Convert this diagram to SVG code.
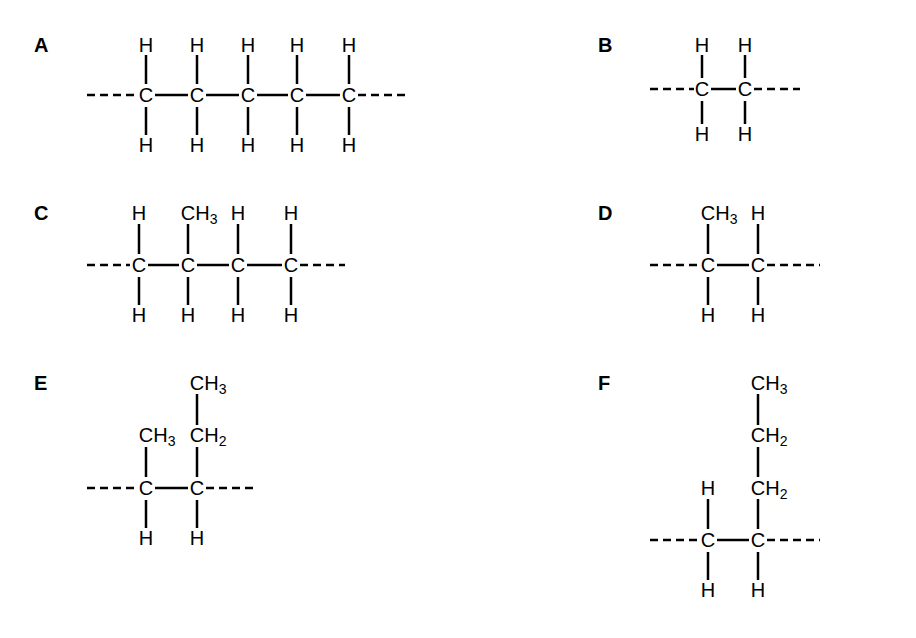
<svg xmlns="http://www.w3.org/2000/svg" width="916" height="638" viewBox="0 0 916 638">
<style>
text{font-family:"Liberation Sans",Arial,sans-serif;font-size:20px;fill:#000}
.a{text-anchor:middle}
.lb{font-weight:bold;font-size:20px}
line{stroke:#000;stroke-width:2.5}
.d{stroke-dasharray:8,5}
tspan.s{font-size:14px}
</style>
<rect width="916" height="638" fill="#fff"/>
<g id="labels">
<text class="lb" x="34" y="52">A</text><text class="lb" x="598" y="52">B</text>
<text class="lb" x="34" y="220">C</text><text class="lb" x="598" y="220">D</text>
<text class="lb" x="34" y="390">E</text><text class="lb" x="598" y="390">F</text>
</g>
<g id="connectors">
<line class="d" x1="87" y1="95" x2="137" y2="95"/><line class="d" x1="358" y1="95" x2="410" y2="95"/>
<line x1="155" y1="95" x2="188" y2="95"/><line x1="206" y1="95" x2="239" y2="95"/><line x1="257" y1="95" x2="288" y2="95"/><line x1="306" y1="95" x2="340" y2="95"/>
<line x1="146" y1="55" x2="146" y2="84"/><line x1="197" y1="55" x2="197" y2="84"/><line x1="248" y1="55" x2="248" y2="84"/><line x1="297" y1="55" x2="297" y2="84"/><line x1="349" y1="55" x2="349" y2="84"/>
<line x1="146" y1="107" x2="146" y2="135"/><line x1="197" y1="107" x2="197" y2="135"/><line x1="248" y1="107" x2="248" y2="135"/><line x1="297" y1="107" x2="297" y2="135"/><line x1="349" y1="107" x2="349" y2="135"/>
<line class="d" x1="650" y1="89" x2="694" y2="89"/><line class="d" x1="754" y1="89" x2="800" y2="89"/>
<line x1="711" y1="89" x2="736" y2="89"/>
<line x1="702" y1="55" x2="702" y2="78"/><line x1="745" y1="55" x2="745" y2="78"/>
<line x1="702" y1="101" x2="702" y2="124"/><line x1="745" y1="101" x2="745" y2="124"/>
<line class="d" x1="87" y1="265" x2="130" y2="265"/><line class="d" x1="300" y1="265" x2="345" y2="265"/>
<line x1="148" y1="265" x2="179" y2="265"/><line x1="197" y1="265" x2="229" y2="265"/><line x1="247" y1="265" x2="282" y2="265"/>
<line x1="139" y1="224" x2="139" y2="254"/><line x1="188" y1="224" x2="188" y2="254"/><line x1="238" y1="224" x2="238" y2="254"/><line x1="291" y1="224" x2="291" y2="254"/>
<line x1="139" y1="277" x2="139" y2="305"/><line x1="188" y1="277" x2="188" y2="305"/><line x1="238" y1="277" x2="238" y2="305"/><line x1="291" y1="277" x2="291" y2="305"/>
<line class="d" x1="650" y1="265" x2="699" y2="265"/><line class="d" x1="767" y1="265" x2="820" y2="265"/>
<line x1="717" y1="265" x2="749" y2="265"/>
<line x1="708" y1="224" x2="708" y2="254"/><line x1="758" y1="224" x2="758" y2="254"/>
<line x1="708" y1="277" x2="708" y2="305"/><line x1="758" y1="277" x2="758" y2="305"/>
<line class="d" x1="87" y1="488" x2="137" y2="488"/><line class="d" x1="206" y1="488" x2="258" y2="488"/>
<line x1="155" y1="488" x2="188" y2="488"/>
<line x1="146" y1="447" x2="146" y2="477"/><line x1="197" y1="447" x2="197" y2="477"/><line x1="197" y1="394" x2="197" y2="425"/>
<line x1="146" y1="500" x2="146" y2="528"/><line x1="197" y1="500" x2="197" y2="528"/>
<line class="d" x1="650" y1="540" x2="699" y2="540"/><line class="d" x1="767" y1="540" x2="820" y2="540"/>
<line x1="717" y1="540" x2="749" y2="540"/>
<line x1="708" y1="499" x2="708" y2="529"/><line x1="758" y1="499" x2="758" y2="529"/>
<line x1="758" y1="447" x2="758" y2="477"/><line x1="758" y1="394" x2="758" y2="425"/>
<line x1="708" y1="552" x2="708" y2="580"/><line x1="758" y1="552" x2="758" y2="580"/>
</g>
<g id="molA">
<text class="a" x="146" y="52">H</text><text class="a" x="197" y="52">H</text><text class="a" x="248" y="52">H</text><text class="a" x="297" y="52">H</text><text class="a" x="349" y="52">H</text>
<text class="a" x="146" y="102">C</text><text class="a" x="197" y="102">C</text><text class="a" x="248" y="102">C</text><text class="a" x="297" y="102">C</text><text class="a" x="349" y="102">C</text>
<text class="a" x="146" y="152">H</text><text class="a" x="197" y="152">H</text><text class="a" x="248" y="152">H</text><text class="a" x="297" y="152">H</text><text class="a" x="349" y="152">H</text>
</g>
<g id="molB">
<text class="a" x="702" y="52">H</text><text class="a" x="745" y="52">H</text>
<text class="a" x="702" y="96">C</text><text class="a" x="745" y="96">C</text>
<text class="a" x="702" y="141">H</text><text class="a" x="745" y="141">H</text>
</g>
<g id="molC">
<text class="a" x="139" y="220">H</text><text x="180.8" y="220">CH<tspan class="s" dy="4">3</tspan></text><text class="a" x="238" y="220">H</text><text class="a" x="291" y="220">H</text>
<text class="a" x="139" y="272">C</text><text class="a" x="188" y="272">C</text><text class="a" x="238" y="272">C</text><text class="a" x="291" y="272">C</text>
<text class="a" x="139" y="322">H</text><text class="a" x="188" y="322">H</text><text class="a" x="238" y="322">H</text><text class="a" x="291" y="322">H</text>
</g>
<g id="molD">
<text x="700.8" y="220">CH<tspan class="s" dy="4">3</tspan></text><text class="a" x="758" y="220">H</text>
<text class="a" x="708" y="272">C</text><text class="a" x="758" y="272">C</text>
<text class="a" x="708" y="322">H</text><text class="a" x="758" y="322">H</text>
</g>
<g id="molE">
<text x="189.8" y="390">CH<tspan class="s" dy="4">3</tspan></text>
<text x="138.8" y="442">CH<tspan class="s" dy="4">3</tspan></text><text x="189.8" y="442">CH<tspan class="s" dy="4">2</tspan></text>
<text class="a" x="146" y="495">C</text><text class="a" x="197" y="495">C</text>
<text class="a" x="146" y="545">H</text><text class="a" x="197" y="545">H</text>
</g>
<g id="molF">
<text x="750.8" y="390">CH<tspan class="s" dy="4">3</tspan></text>
<text x="750.8" y="442">CH<tspan class="s" dy="4">2</tspan></text>
<text class="a" x="708" y="495">H</text><text x="750.8" y="495">CH<tspan class="s" dy="4">2</tspan></text>
<text class="a" x="708" y="547">C</text><text class="a" x="758" y="547">C</text>
<text class="a" x="708" y="597">H</text><text class="a" x="758" y="597">H</text>
</g>
</svg>
